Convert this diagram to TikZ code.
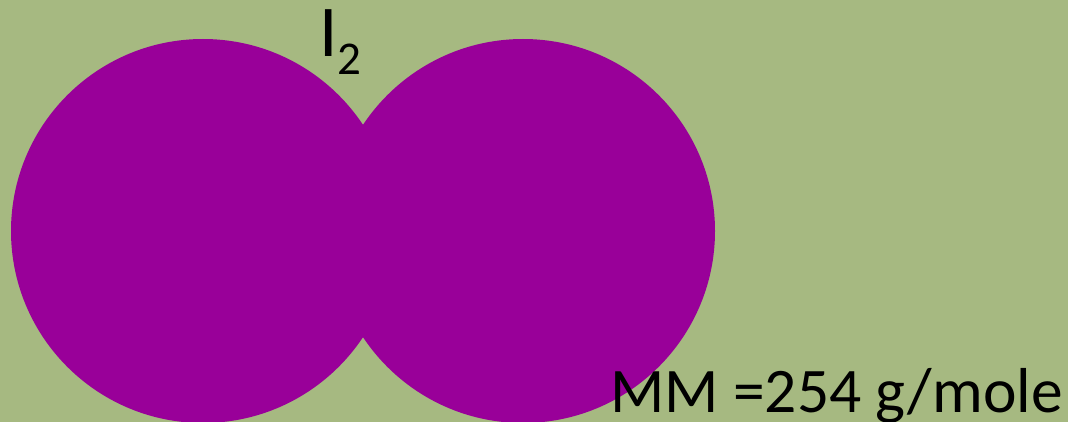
\documentclass[tikz,border=0pt]{standalone}
\usepackage{fontspec}
\setmainfont{Carlito}
\definecolor{bgreen}{HTML}{A6B981}
\definecolor{atompurple}{HTML}{990099}
\tikzset{
  atom_node/.style = {circle, fill=atompurple, inner sep=0pt,
    minimum size=384pt},% atome d'iode
  label_text/.style = {inner sep=0pt, text=black, font=\fontsize{63.5pt}{64pt}\selectfont},
  formula_text/.style = {inner sep=0pt, text=black, font=\fontsize{73pt}{73pt}\selectfont}
}
\begin{document}
\begin{tikzpicture}[x=1pt, y=-1pt]
      \fill [bgreen] (0,0) rectangle (1068,422);
      \useasboundingbox (0,0) rectangle (1068,422);
      \begin{scope}
        \clip (0,0) rectangle (1068,422);
        \node [atom_node] (left_atom) at (203,231) {};
        \node [atom_node] (right_atom) at (523,231) {};
      \end{scope}
      \node [formula_text, anchor=base west] (formula) at (319,57)
        {I\raisebox{-18pt}{\fontsize{47pt}{47pt}\selectfont 2}};
      \node [label_text, anchor=base east] (mass) at (1063,412) {MM =254 g/mole};
    \end{tikzpicture}
\end{document}
